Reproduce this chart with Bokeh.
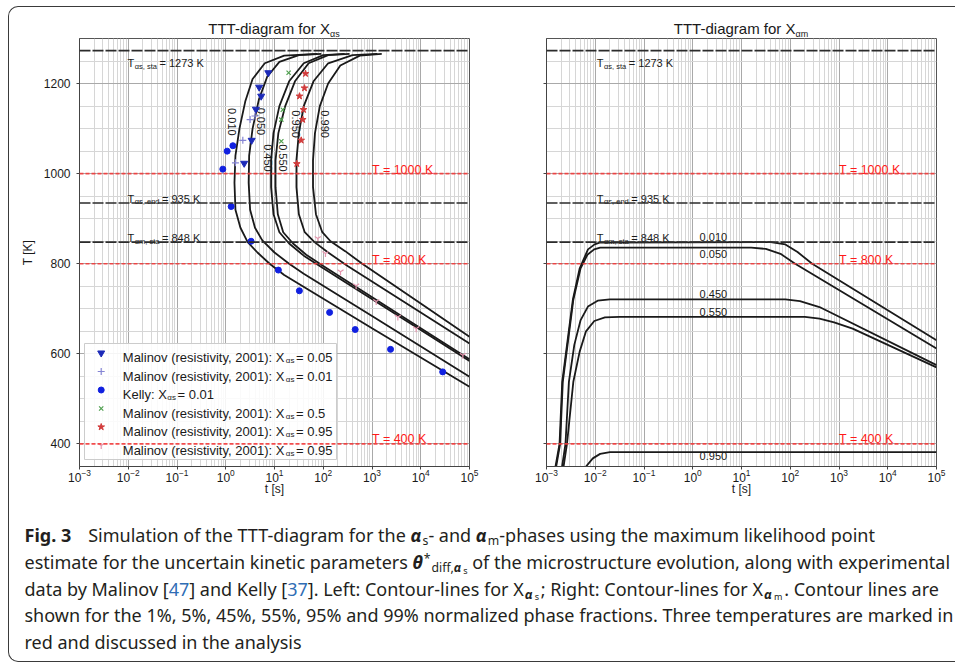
import math
from bokeh.plotting import figure
from bokeh.models import FixedTicker, Span, Div
from bokeh.layouts import row, column
from bokeh.embed import file_html
from bokeh.resources import INLINE
from bokeh.core.properties import value

FONT = "Liberation Sans"
INK = "#1a1a1a"

# ---------------- axes ----------------
t_lim = [1e-3, 1e5]
T_lim = [350, 1300]
t_major = [1e-3, 1e-2, 1e-1, 1e0, 1e1, 1e2, 1e3, 1e4, 1e5]
T_major = [400, 600, 800, 1000, 1200]
T_minor = [350, 450, 500, 550, 650, 700, 750, 850, 900, 950, 1050, 1100, 1150, 1250, 1300]
t_minor = [m * d for d in t_major[:-1] for m in range(2, 10)]

# ---------------- reference temperatures ----------------
phase_T = [1273, 935, 848]
phase_sub = ["αs, sta", "αs, end", "αm, sta"]
phase_label_T = [1245, 944, 857]
marked_T = [1000, 800, 400]
marked_label_T = [1009, 809, 411]

# ---------------- left: contour lines of X_alpha_s ----------------
xs_levels = ["0.010", "0.050", "0.450", "0.550", "0.950", "0.990"]
xs_010_t = [76, 15.8, 6.31, 3.55, 2.51, 1.91, 1.58, 1.51, 1.58, 2.0, 2.82, 4.47, 7.94, 15.8, 1000, 1e5]
xs_010_T = [1266, 1262, 1245, 1210, 1160, 1100, 1040, 980, 920, 880, 848, 825, 800, 775, 657, 527]
xs_050_t = [91.2, 31.6, 12.6, 7.08, 4.79, 3.55, 3.02, 2.95, 3.16, 3.98, 5.62, 10, 19.95, 39.8, 1000, 1e5]
xs_050_T = [1266, 1263, 1248, 1215, 1165, 1100, 1040, 980, 920, 880, 852, 825, 800, 778, 684, 549]
xs_450_t = [275, 100, 39.8, 19.95, 12.6, 9.55, 8.51, 8.51, 9.55, 12.6, 19.95, 39.8, 100, 1e4, 1e5]
xs_450_T = [1266, 1263, 1245, 1205, 1150, 1090, 1030, 970, 910, 870, 845, 818, 790, 653, 584]
xs_550_t = [347, 126, 50.1, 26.3, 16.6, 12.0, 10.5, 10.5, 11.7, 15.1, 24.0, 44.7, 100, 1e4, 1e5]
xs_550_T = [1266, 1263, 1245, 1205, 1150, 1090, 1030, 970, 910, 870, 845, 820, 795, 657, 588]
xs_950_t = [1288, 398, 126, 63.1, 39.8, 31.6, 28.2, 28.2, 31.6, 41.7, 66.1, 126, 316, 1e4, 1e5]
xs_950_T = [1266, 1263, 1245, 1205, 1150, 1090, 1030, 970, 910, 870, 848, 825, 795, 692, 623]
xs_990_t = [1585, 562, 224, 126, 85.1, 67.6, 61.7, 61.7, 70.8, 95.5, 141, 282, 631, 1e4, 1e5]
xs_990_T = [1266, 1262, 1240, 1200, 1150, 1090, 1030, 970, 910, 870, 850, 828, 800, 712, 638]
xs_label_t = [1.37, 5.33, 7.3, 14.8, 27.9, 111]
xs_label_T = [1115, 1116, 1035, 1035, 1110, 1110]

# ---------------- right: contour lines of X_alpha_m ----------------
xm_levels = ["0.010", "0.050", "0.450", "0.550", "0.950"]
xm_010_t = [0.00153, 0.00185, 0.0021, 0.00347, 0.0048, 0.0071, 0.0097, 0.0123, 39.8, 79.4, 141, 282, 1e5]
xm_010_T = [350, 400, 538, 720, 790, 832, 843, 847, 848, 843, 826, 800, 630]
xm_050_t = [0.00158, 0.0019, 0.00216, 0.00355, 0.0050, 0.0069, 0.0095, 0.0126, 15.8, 31.6, 63.1, 126, 1e5]
xm_050_T = [350, 400, 538, 720, 790, 820, 832, 836, 836, 833, 822, 800, 612]
xm_450_t = [0.00209, 0.00245, 0.00288, 0.00372, 0.00501, 0.00708, 0.0112, 0.02, 79.4, 158, 398, 1e5]
xm_450_T = [350, 400, 538, 620, 675, 705, 718, 721, 721, 717, 704, 575]
xm_550_t = [0.00224, 0.00263, 0.00355, 0.00479, 0.00646, 0.00955, 0.0158, 0.0316, 200, 398, 794, 1905, 1e5]
xm_550_T = [350, 400, 538, 605, 650, 673, 681, 682, 682, 678, 670, 656, 570]
xm_950_t = [0.00646, 0.00891, 0.0126, 0.02, 1e5]
xm_950_T = [350, 368, 378, 382, 382]
xm_label_t = [2.65, 2.65, 2.65, 2.65, 2.65]
xm_label_T = [860, 821, 733, 693, 373]

# ---------------- experimental data ----------------
mal05_t = [7.46, 4.85, 5.33, 4.15, 3.40, 2.39]
mal05_T = [1224, 1192, 1172, 1143, 1074, 1023]
mal01_t = [3.98, 3.16, 2.24, 1.58]
mal01_T = [1128, 1120, 1074, 1024]
kelly_t = [0.87, 1.07, 1.40, 1.29, 3.31, 12.0, 32.4, 135, 452, 2400, 28200]
kelly_T = [1010, 1050, 1062, 927, 850, 786, 740, 692, 654, 610, 560]
mal50_t = [19.5, 14.8, 13.8, 13.8]
mal50_T = [1224, 1142, 1120, 1072]
mal95_t = [43.3, 41.2, 32.6, 39.4, 38.0, 35.3, 28.7]
mal95_T = [1222, 1190, 1172, 1142, 1120, 1074, 1022]
mal95b_t = [77.3, 111, 226, 473, 1220, 3390, 8050, 73000]
mal95b_T = [856, 823, 782, 751, 716, 682, 656, 597]

legend_head = ["Malinov (resistivity, 2001): X", "Malinov (resistivity, 2001): X", "Kelly: X",
               "Malinov (resistivity, 2001): X", "Malinov (resistivity, 2001): X", "Malinov (resistivity, 2001): X"]
legend_tail = [" = 0.05", " = 0.01", " = 0.01", " = 0.5", " = 0.95", " = 0.95"]

# ---------------- layout constants ----------------
FRAME_W, FRAME_H = 390, 428
TITLE_H = 30
BORDER_BOTTOM = 48
L_LEFT, L_RIGHT = 70, 38
R_LEFT, R_RIGHT = 39, 19
PX_DEC = FRAME_W / 8.0
PX_K = FRAME_H / float(T_lim[1] - T_lim[0])


def t_at(px):
    return 10 ** (-3 + px / PX_DEC)


def T_at(py):
    return T_lim[0] + py / PX_K


AW = {' ': 278, '(': 333, ')': 333, ',': 278, '-': 333, '.': 278, ':': 278, '=': 584, '*': 389,
      'A': 667, 'K': 667, 'M': 833, 'T': 611, 'X': 667, 'α': 578,
      'a': 556, 'b': 556, 'c': 500, 'd': 556, 'e': 556, 'f': 278, 'g': 556, 'h': 556, 'i': 222,
      'k': 500, 'l': 222, 'm': 833, 'n': 556, 'o': 556, 'p': 556, 'r': 333, 's': 500, 't': 278,
      'u': 556, 'v': 500, 'y': 500}


def text_w(s, size):
    return sum(AW.get(c, 556) for c in s) * size / 1000.0


def add_parts(p, x, y, parts, color):
    off = 0.0
    for s, size, dy, gap in parts:
        p.text(x=[x], y=[y], text=[s], x_offset=off, y_offset=dy,
               text_font=value(FONT), text_font_size=value("%gpx" % size),
               text_color=color, text_align="left", text_baseline="alphabetic")
        off += text_w(s, size) + gap


def make_title(width, left, sub):
    html = ("<div style=\"margin-left:%dpx; width:%dpx; padding-top:14px; text-align:center; "
            "font-family:'Liberation Sans'; font-size:15px; line-height:15px; color:%s; white-space:nowrap\">"
            "TTT-diagram for X<span style='font-size:9px; line-height:0; position:relative; top:3px'>%s</span></div>"
            % (left, FRAME_W, INK, sub))
    return Div(text=html, width=width, height=TITLE_H, margin=0)


def make_fig(left, right, ylabels):
    p = figure(x_axis_type="log", x_range=(t_lim[0], t_lim[1]), y_range=(T_lim[0], T_lim[1]),
               width=left + FRAME_W + right, height=1 + FRAME_H + BORDER_BOTTOM, title=None,
               min_border_left=left, min_border_right=right,
               min_border_top=1, min_border_bottom=BORDER_BOTTOM,
               toolbar_location=None, output_backend="svg",
               background_fill_color="white", border_fill_color="white",
               outline_line_color="#555555", outline_line_width=1)
    p.xaxis.ticker = FixedTicker(ticks=t_major, minor_ticks=t_minor)
    p.yaxis.ticker = FixedTicker(ticks=T_major, minor_ticks=T_minor)
    for ax in p.axis:
        ax.axis_line_color = "#444444"
        ax.major_tick_line_color = "#444444"
        ax.major_tick_out = 3
        ax.major_tick_in = 0
        ax.minor_tick_line_color = None
        ax.major_label_text_font = FONT
        ax.major_label_text_font_size = "12px"
        ax.major_label_text_color = INK
        ax.axis_label_text_font = FONT
        ax.axis_label_text_font_size = "12px"
        ax.axis_label_text_font_style = "normal"
        ax.axis_label_text_color = INK
    p.xaxis.major_label_standoff = -2
    p.xaxis.axis_label_standoff = -3
    p.xaxis.axis_label = "t [s]"
    p.yaxis.major_label_standoff = 5
    p.yaxis.axis_label_standoff = 6
    if ylabels:
        p.yaxis.axis_label = "T [K]"
    else:
        p.yaxis.major_label_overrides = {v: "" for v in T_major}
    for g in (p.xgrid, p.ygrid):
        g.grid_line_color = "#a9a9a9"
        g.grid_line_width = 1
        g.minor_grid_line_color = "#d6d6d6"
        g.minor_grid_line_width = 1
    for v in phase_T:
        p.add_layout(Span(location=v, dimension="width", line_color="#2b2b2b",
                          line_width=1.6, line_dash="11 2"))
    for v in marked_T:
        p.add_layout(Span(location=v, dimension="width", line_color="#f23a3a",
                          line_width=1.7, line_dash="4 2", line_alpha=0.9))
    return p


def annotate_temps(p, x_anchor):
    for v, s, y in zip(phase_T, phase_sub, phase_label_T):
        add_parts(p, x_anchor, y, [("T", 11, 0, 0.5), (s, 7.5, 3, 2.5), ("= %d K" % v, 11, 0, 0)], INK)
    for v, y in zip(marked_T, marked_label_T):
        p.text(x=[1000], y=[y], text=["T = %d K" % v], text_font=value(FONT),
               text_font_size=value("12.5px"), text_color="#ff1a1a",
               text_align="left", text_baseline="alphabetic")


# ================= left figure =================
t1 = make_title(L_LEFT + FRAME_W + L_RIGHT, L_LEFT, "αs")
p1 = make_fig(L_LEFT, L_RIGHT, True)
annotate_temps(p1, 0.00966)
for tt, TT in [(xs_010_t, xs_010_T), (xs_050_t, xs_050_T), (xs_450_t, xs_450_T),
               (xs_550_t, xs_550_T), (xs_950_t, xs_950_T), (xs_990_t, xs_990_T)]:
    p1.line(tt, TT, line_color=INK, line_width=1.8)
p1.text(x=xs_label_t, y=xs_label_T, text=xs_levels, angle=-math.pi / 2,
        text_font=value(FONT), text_font_size=value("11px"), text_color=INK,
        text_align="center", text_baseline="middle")

markers = [
    dict(marker="inverted_triangle", size=7, fill_color="#1c2ab8", line_color="#1c2ab8"),
    dict(marker="cross", size=7, fill_color=None, line_color="#8585d4", line_width=1.2),
    dict(marker="circle", size=6, fill_color="#1020e0", line_color="#1020e0"),
    dict(marker="x", size=6, fill_color=None, line_color="#4f9f4f", line_width=1.2),
    dict(marker="star", size=7, fill_color="#d23c3c", line_color="#d23c3c"),
    dict(marker="y", size=7, fill_color=None, line_color="#e596ae", line_width=1.2),
]
series = [(mal05_t, mal05_T), (mal01_t, mal01_T), (kelly_t, kelly_T),
          (mal50_t, mal50_T), (mal95_t, mal95_T), (mal95b_t, mal95b_T)]
for (tt, TT), m in zip(series, markers):
    p1.scatter(tt, TT, **m)

# legend, positioned in frame pixels
p1.quad(left=[t_at(5)], right=[t_at(257)], bottom=[T_at(7)], top=[T_at(123)],
        fill_color="white", fill_alpha=0.88, line_color="#cccccc", line_width=1)
row_py = [113.5, 95, 76.5, 58, 39.5, 21]
for py, m, head, tail in zip(row_py, markers, legend_head, legend_tail):
    p1.scatter([t_at(21.7)], [T_at(py)], **m)
    add_parts(p1, t_at(43.3), T_at(py - 4.5),
              [(head, 13, 0, 0.5), ("αs", 8, 3, 1.5), (tail, 13, 0, 0)], INK)

# ================= right figure =================
t2 = make_title(R_LEFT + FRAME_W + R_RIGHT, R_LEFT, "αm")
p2 = make_fig(R_LEFT, R_RIGHT, False)
annotate_temps(p2, 0.01076)
for tt, TT in [(xm_010_t, xm_010_T), (xm_050_t, xm_050_T), (xm_450_t, xm_450_T),
               (xm_550_t, xm_550_T), (xm_950_t, xm_950_T)]:
    p2.line(tt, TT, line_color=INK, line_width=1.8)
p2.text(x=xm_label_t, y=xm_label_T, text=xm_levels, text_font=value(FONT),
        text_font_size=value("11px"), text_color=INK, text_align="center",
        text_baseline="middle")

# ================= caption =================
AL = "<b><i>α</i></b>"


def lo(s, size, top, ml=0):
    return ("<span style='font-size:%s; line-height:0; position:relative; top:%s; margin-left:%gpx'>%s</span>"
            % (size, top, ml, s))


REF = "<span style='color:#2f6db5'>%s</span>"
cap_lines = [
    "<b>Fig. 3</b><span style='display:inline-block; width:17px'></span>Simulation of the TTT-diagram for the "
    + AL + lo("s", "0.68em", "0.28em", 1) + "- and " + AL + lo("m", "0.68em", "0.28em", 1)
    + "-phases using the maximum likelihood point",
    "estimate for the uncertain kinetic parameters <b><i>θ</i></b>"
    + lo("*", "0.68em", "-0.5em", 1) + lo("diff," + AL, "0.68em", "0.26em", 1) + lo("s", "0.5em", "0.55em", 2)
    + "&nbsp;of the microstructure evolution, along with experimental",
    "data by Malinov [" + REF % "47" + "] and Kelly [" + REF % "37" + "]. Left: Contour-lines for X"
    + lo(AL, "0.72em", "0.25em", 1) + lo("s", "0.5em", "0.5em", 2)
    + "&#8202;; Right: Contour-lines for X" + lo(AL, "0.72em", "0.25em", 1) + lo("m", "0.5em", "0.5em", 2)
    + "&#8202;. Contour lines are",
    "shown for the 1%, 5%, 45%, 55%, 95% and 99% normalized phase fractions. Three temperatures are marked in",
    "red and discussed in the analysis",
]
W_ALL = L_LEFT + FRAME_W + L_RIGHT + R_LEFT + FRAME_W + R_RIGHT
CAP_H = 657 - 3 - TITLE_H - (1 + FRAME_H + BORDER_BOTTOM)
cap_html = ("<div style=\"font-family:'Noto Sans'; font-size:18px; line-height:26.75px; color:#231f20; "
            "white-space:nowrap; padding:8px 0 0 15.5px; margin:0\">" + "<br>".join(cap_lines) + "</div>")
cap = Div(text=cap_html, width=W_ALL, height=CAP_H, margin=0, styles={"overflow": "hidden"})

layout = column(row(column(t1, p1), column(t2, p2)), cap, margin=(6, 0, 0, 8),
                styles={"border-left": "1.5px solid #3a3a3a", "border-top": "1.5px solid #3a3a3a",
                        "border-bottom": "1.5px solid #3a3a3a", "border-radius": "10px 0 0 10px",
                        "background-color": "white"})

open("out.html", "w").write(file_html(layout, INLINE))
